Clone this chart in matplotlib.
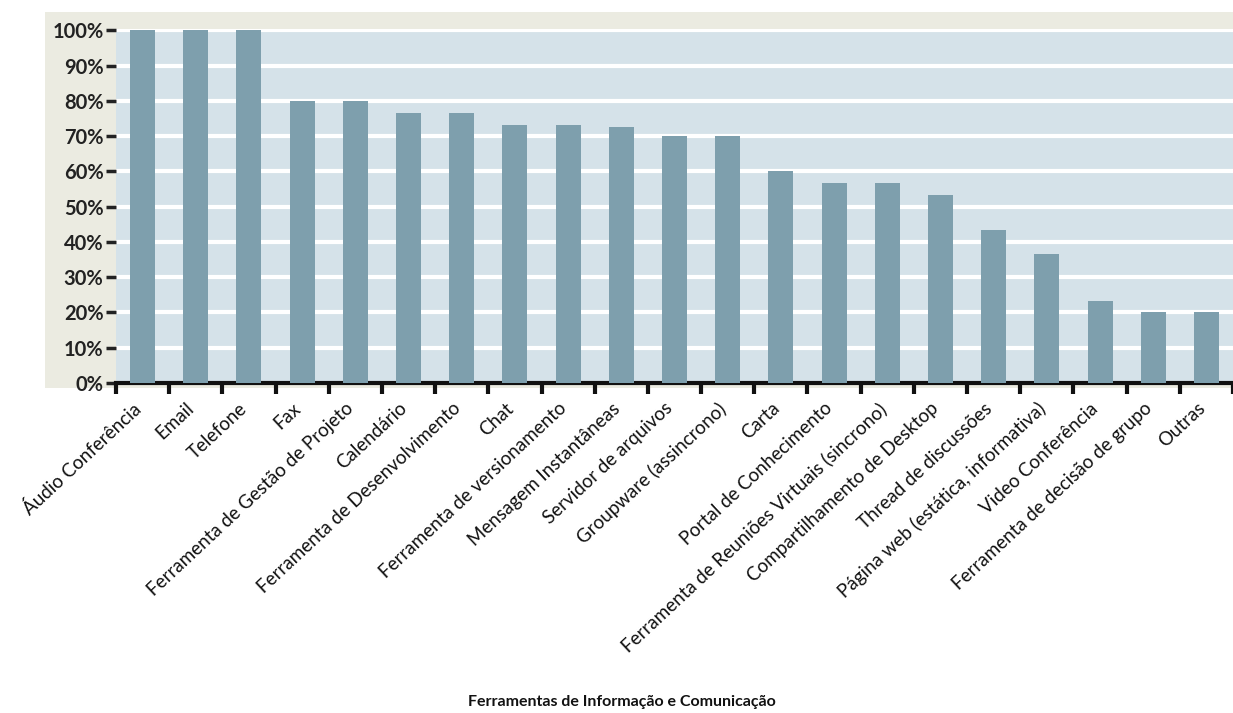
import numpy as np
import matplotlib.pyplot as plt
import matplotlib.transforms as mtransforms
from matplotlib.patches import Rectangle

# categories and share of respondents (%)
categories = [
    "Áudio Conferência", "Email", "Telefone", "Fax",
    "Ferramenta de Gestão de Projeto", "Calendário",
    "Ferramenta de Desenvolvimento", "Chat", "Ferramenta de versionamento",
    "Mensagem Instantâneas", "Servidor de arquivos", "Groupware (assincrono)",
    "Carta", "Portal de Conhecimento",
    "Ferramenta de Reuniões Virtuais (sincrono)", "Compartilhamento de Desktop",
    "Thread de discussões", "Página web (estática, informativa)",
    "Video Conferência", "Ferramenta de decisão de grupo", "Outras",
]
values = [100, 100, 100, 80, 80, 76.7, 76.7, 73.3, 73.3, 72.7, 70, 70,
          60, 56.7, 56.7, 53.3, 43.3, 36.7, 23.3, 20, 20]
y_ticks = list(range(0, 101, 10))
y_tick_labels = [f"{t}%" for t in y_ticks]
x_title = "Ferramentas de Informação e Comunicação"

W, H = 1233, 713
fig = plt.figure(figsize=(W / 100, H / 100), dpi=100)
fig.patch.set_facecolor("white")

# beige outer panel, behind the axes
fig.patches.append(Rectangle((45 / W, 1 - 388 / H), 1 - 45 / W, (388 - 12) / H,
                             transform=fig.transFigure, facecolor="#ebebe1",
                             edgecolor="none", zorder=-5))

ax = fig.add_axes([116 / W, 1 - 383 / H, 1 - 116 / W, (383 - 29) / H])
ax.set_facecolor("#d5e2e9")

x = np.arange(len(categories))
ax.bar(x, values, width=0.47, color="#7e9fad", zorder=3)

ax.set_ylim(0, 100.4)
ax.set_xlim(-0.5, -0.5 + (W - 116) / 53.4)
ax.set_yticks(y_ticks)
ax.set_yticklabels(y_tick_labels, fontfamily="Lato", fontweight="bold",
                   fontsize=14.5, color="#222222")
ax.yaxis.grid(True, color="white", linewidth=3, zorder=1)
ax.set_axisbelow(True)

ax.set_xticks(x)
ax.set_xticklabels(categories, rotation=43, ha="right", rotation_mode="anchor",
                   fontfamily="Lato", fontsize=13.5, color="#111111")
ax.tick_params(axis="x", which="major", length=0, pad=12)
# labels end slightly left of the bar centre
shift = mtransforms.ScaledTranslation(-10 / 100, 0, fig.dpi_scale_trans)
for lab in ax.get_xticklabels():
    lab.set_transform(lab.get_transform() + shift)
ax.set_xticks(np.arange(-0.5, len(categories), 1.0), minor=True)
ax.tick_params(axis="x", which="minor", length=8, width=3, color="#111111",
               direction="out")
ax.tick_params(axis="y", length=7, width=2.5, color="#222222", pad=2)

for s in ["top", "right", "left"]:
    ax.spines[s].set_visible(False)
ax.spines["bottom"].set_linewidth(3)
ax.spines["bottom"].set_color("#111111")

fig.text(622 / W, 1 - 702 / H, x_title, ha="center", va="center",
         fontfamily="Lato", fontweight="bold", fontsize=11.5, color="#111111")

fig.savefig("out.png", dpi=100)
